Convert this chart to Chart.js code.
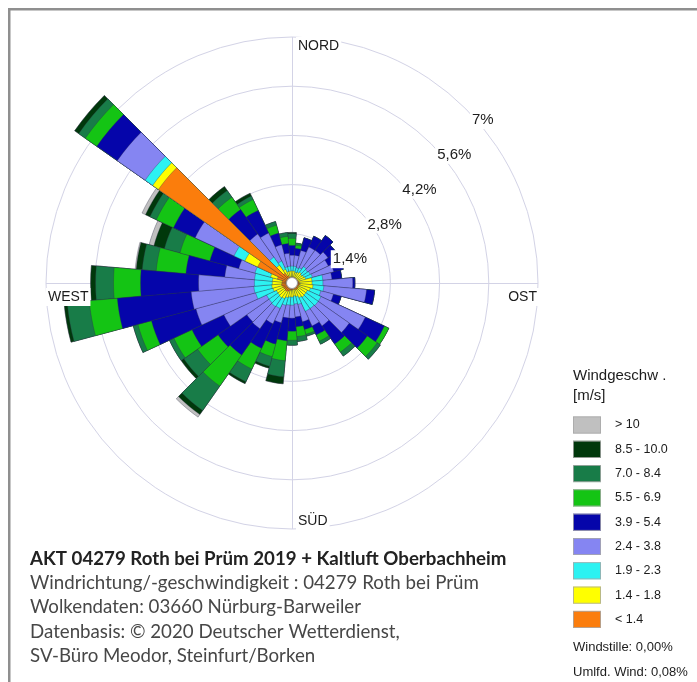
<!DOCTYPE html>
<html>
<head>
<meta charset="utf-8">
<script src="https://cdn.jsdelivr.net/npm/chart.js@4.4.1/dist/chart.umd.min.js"></script>
<style>
  html, body { margin: 0; padding: 0; background: #ffffff; }
  canvas { display: block; }
</style>
</head>
<body>
<canvas id="rose" width="697" height="682"></canvas>
<script>
// Wind direction sectors (degrees, clockwise from north), 10° each
const directions = [0,10,20,30,40,50,60,70,80,90,100,110,120,130,140,150,160,170,
                    180,190,200,210,220,230,240,250,260,270,280,290,300,310,320,330,340,350];

// Wind speed classes [m/s], innermost first
const speedClasses = ['< 1.4','1.4 - 1.8','1.9 - 2.3','2.4 - 3.8','3.9 - 5.4','5.5 - 6.9','7.0 - 8.4','8.5 - 10.0','> 10'];
const speedColors  = ['#fb7d0c','#ffff00','#2cf2f2','#8585f2','#0505aa','#14c414','#187c48','#00380b','#c0c0c0'];

// Frequency [%] of each speed class per direction sector
const freqBelow14 = [0.17,0.17,0.14,0.17,0.17,0.14,0.17,0.17,0.20,0.20,0.23,0.20,0.20,0.20,0.23,0.20,0.20,0.17,
                     0.20,0.20,0.23,0.26,0.28,0.26,0.26,0.28,0.30,0.28,0.28,0.43,1.08,4.64,0.34,0.23,0.17,0.17];
const freq14to18  = [0.17,0.17,0.17,0.17,0.20,0.20,0.20,0.23,0.37,0.37,0.37,0.34,0.28,0.28,0.26,0.26,0.20,0.20,
                     0.20,0.20,0.20,0.23,0.23,0.23,0.23,0.28,0.28,0.28,0.28,0.20,0.40,0.20,0.28,0.20,0.17,0.17];
const freq19to23  = [0.14,0.14,0.14,0.14,0.20,0.20,0.20,0.20,0.31,0.31,0.31,0.31,0.43,0.43,0.40,0.43,0.23,0.23,
                     0.23,0.23,0.23,0.31,0.31,0.31,0.31,0.51,0.51,0.51,0.51,0.46,0.34,0.26,0.28,0.26,0.14,0.14];
const freq24to38  = [0.31,0.31,0.51,0.65,0.57,0.71,0.57,0.63,0.26,0.85,1.22,0.37,1.39,1.08,0.60,0.46,0.51,0.37,
                     0.37,0.37,0.51,0.48,0.77,0.77,1.34,1.76,1.79,1.59,0.85,0.48,1.22,0.97,0.80,0.88,0.65,0.37];
const freq39to54  = [0.28,0.20,0.37,0.34,0.51,0.28,0.34,0.28,0.28,0.06,0.23,0.23,0.60,0.63,0.63,0.28,0.23,0.28,
                     0.37,0.65,0.63,0.77,0.91,1.00,1.00,1.31,2.11,1.65,1.11,0.85,0.68,0.71,0.85,0.71,0.34,0.28];
const freq55to69  = [0.20,0.09,0.00,0.00,0.00,0.00,0.00,0.00,0.00,0.00,0.00,0.00,0.14,0.34,0.28,0.20,0.14,0.28,
                     0.26,0.57,0.37,0.65,1.08,0.71,0.57,0.40,0.80,0.77,0.85,0.88,0.54,0.40,0.43,0.34,0.23,0.20];
const freq70to84  = [0.14,0.06,0.00,0.00,0.00,0.00,0.00,0.00,0.00,0.00,0.00,0.00,0.00,0.11,0.14,0.09,0.06,0.14,
                     0.14,0.46,0.28,0.40,0.85,0.48,0.14,0.14,0.63,0.51,0.40,0.46,0.20,0.23,0.23,0.11,0.11,0.11];
const freq85to100 = [0.03,0.00,0.00,0.00,0.00,0.00,0.00,0.00,0.00,0.00,0.00,0.00,0.00,0.00,0.00,0.00,0.00,0.00,
                     0.00,0.20,0.06,0.06,0.14,0.09,0.00,0.00,0.09,0.14,0.17,0.31,0.14,0.14,0.14,0.09,0.00,0.00];
const freqAbove10 = [0.00,0.00,0.00,0.00,0.00,0.00,0.00,0.00,0.00,0.00,0.00,0.00,0.00,0.00,0.00,0.00,0.00,0.00,
                     0.00,0.00,0.00,0.00,0.09,0.00,0.00,0.00,0.00,0.00,0.03,0.14,0.11,0.00,0.00,0.00,0.00,0.00];

// Radial rings [%] and their labels
const ringValues = [1.4, 2.8, 4.2, 5.6, 7];
const ringLabels = ['1,4%', '2,8%', '4,2%', '5,6%', '7%'];
const compassLabels = ['NORD', 'OST', 'SÜD', 'WEST'];

const calmText = 'Windstille: 0,00%';
const variableText = 'Umlfd. Wind: 0,08%';
const legendTitle = ['Windgeschw .', '[m/s]'];
const captionTitle = 'AKT 04279 Roth bei Prüm 2019 + Kaltluft Oberbachheim';
const captionLines = [
  'Windrichtung/-geschwindigkeit : 04279 Roth bei Prüm',
  'Wolkendaten: 03660 Nürburg-Barweiler',
  'Datenbasis: © 2020 Deutscher Wetterdienst,',
  'SV-Büro Meodor, Steinfurt/Borken'
];

// Polar-area charts do not stack, so each class is drawn as the running
// total of itself and all slower classes; slower classes are painted on top.
const classSeries = [freqBelow14, freq14to18, freq19to23, freq24to38, freq39to54,
                     freq55to69, freq70to84, freq85to100, freqAbove10];
let running = directions.map(() => 0);
const datasets = classSeries.map((vals, k) => {
  running = running.map((acc, i) => acc + vals[i]);
  return {
    label: speedClasses[k],
    data: running.slice(),
    backgroundColor: speedColors[k],
    borderColor: 'rgba(45,45,70,0.55)',
    borderWidth: 0.6,
    clip: false
  };
});

const GRID = '#d3d3e6';
const LABEL_FONT = '"Liberation Sans", Arial, sans-serif';
const CAPTION_FONT = 'Lato, "Open Sans", sans-serif';

function labelBox(ctx, text, x, y, align) {
  const w = ctx.measureText(text).width;
  const left = align === 'right' ? x - w : x;
  ctx.fillStyle = '#ffffff';
  ctx.fillRect(left - 2, y - 9, w + 4, 18);
  ctx.fillStyle = '#1c1c1c';
  ctx.textAlign = align;
  ctx.fillText(text, x, y);
}

const roseDecor = {
  id: 'roseDecor',
  beforeDraw(chart) {
    const ctx = chart.ctx;
    ctx.save();
    ctx.fillStyle = '#ffffff';
    ctx.fillRect(0, 0, chart.width, chart.height);
    ctx.restore();
  },
  beforeDatasetsDraw(chart) {
    const s = chart.scales.r;
    const ctx = chart.ctx;
    const R = s.getDistanceFromCenterForValue(s.max);
    ctx.save();
    ctx.strokeStyle = GRID;
    ctx.lineWidth = 1;
    ctx.beginPath();
    ctx.moveTo(s.xCenter + 0.5, s.yCenter - R);
    ctx.lineTo(s.xCenter + 0.5, s.yCenter + R);
    ctx.moveTo(s.xCenter - R, s.yCenter + 0.5);
    ctx.lineTo(s.xCenter + R, s.yCenter + 0.5);
    ctx.stroke();
    ctx.restore();
  },
  afterDatasetsDraw(chart) {
    const s = chart.scales.r;
    const ctx = chart.ctx;
    const cx = s.xCenter, cy = s.yCenter;
    const R = s.getDistanceFromCenterForValue(s.max);
    ctx.save();
    // calm hole in the middle
    ctx.beginPath();
    ctx.arc(cx, cy, 5.5, 0, Math.PI * 2);
    ctx.fillStyle = '#ffffff';
    ctx.fill();
    ctx.strokeStyle = '#9a9a9a';
    ctx.lineWidth = 1;
    ctx.stroke();

    // ring percentages along the north-east diagonal
    ctx.font = '15px ' + LABEL_FONT;
    ctx.textBaseline = 'middle';
    ringValues.forEach((v, i) => {
      const r = s.getDistanceFromCenterForValue(v);
      const x = cx + r * Math.SQRT1_2;
      const y = cy - r * Math.SQRT1_2;
      labelBox(ctx, ringLabels[i], x + 6, y + 11, 'left');
    });

    // compass points
    ctx.font = '14px ' + LABEL_FONT;
    labelBox(ctx, compassLabels[0], cx + 6, cy - R + 9, 'left');
    labelBox(ctx, compassLabels[1], cx + R - 1, cy + 14, 'right');
    labelBox(ctx, compassLabels[2], cx + 6, cy + R - 8, 'left');
    labelBox(ctx, compassLabels[3], cx - R + 2, cy + 14, 'left');
    ctx.restore();
  },
  afterDraw(chart) {
    const ctx = chart.ctx;
    ctx.save();
    ctx.textBaseline = 'middle';
    ctx.textAlign = 'left';

    // legend
    const lx = 573;
    ctx.fillStyle = '#1c1c1c';
    ctx.font = '15px ' + LABEL_FONT;
    ctx.fillText(legendTitle[0], lx, 376);
    ctx.fillText(legendTitle[1], lx, 396);
    ctx.font = '12.5px ' + LABEL_FONT;
    for (let k = speedClasses.length - 1, row = 0; k >= 0; k--, row++) {
      const yc = 425 + row * 24.3;
      ctx.fillStyle = speedColors[k];
      ctx.fillRect(lx, yc - 8.5, 28, 17);
      ctx.strokeStyle = '#a8a8a8';
      ctx.lineWidth = 0.8;
      ctx.strokeRect(lx + 0.4, yc - 8.1, 27.2, 16.2);
      ctx.fillStyle = '#1c1c1c';
      ctx.fillText(speedClasses[k], 615, yc);
    }
    ctx.font = '13px ' + LABEL_FONT;
    ctx.fillText(calmText, lx, 647);
    ctx.fillText(variableText, lx, 672);

    // caption block
    ctx.font = 'bold 18.7px ' + CAPTION_FONT;
    ctx.fillStyle = '#222222';
    ctx.fillText(captionTitle, 30, 559);
    ctx.font = '18.7px ' + CAPTION_FONT;
    ctx.fillStyle = '#474747';
    captionLines.forEach((t, i) => ctx.fillText(t, 30, 583 + i * 24.3));

    // frame
    ctx.fillStyle = '#8f8f8f';
    ctx.fillRect(8, 8, chart.width - 8, 2.5);
    ctx.fillRect(8, 8, 2.5, chart.height - 8);
    ctx.restore();
  }
};

new Chart(document.getElementById('rose'), {
  type: 'polarArea',
  data: { labels: directions.map(d => d + '°'), datasets },
  options: {
    responsive: false,
    animation: false,
    events: [],
    layout: { padding: { left: 46, right: 159, top: 37, bottom: 153 } },
    plugins: { legend: { display: false }, tooltip: { enabled: false } },
    scales: {
      r: {
        min: 0,
        max: 7,
        startAngle: -5,
        ticks: { display: false, stepSize: 1.4 },
        grid: { circular: true, color: GRID, lineWidth: 1 },
        angleLines: { display: false },
        pointLabels: { display: false }
      }
    }
  },
  plugins: [roseDecor]
});
</script>
</body>
</html>
